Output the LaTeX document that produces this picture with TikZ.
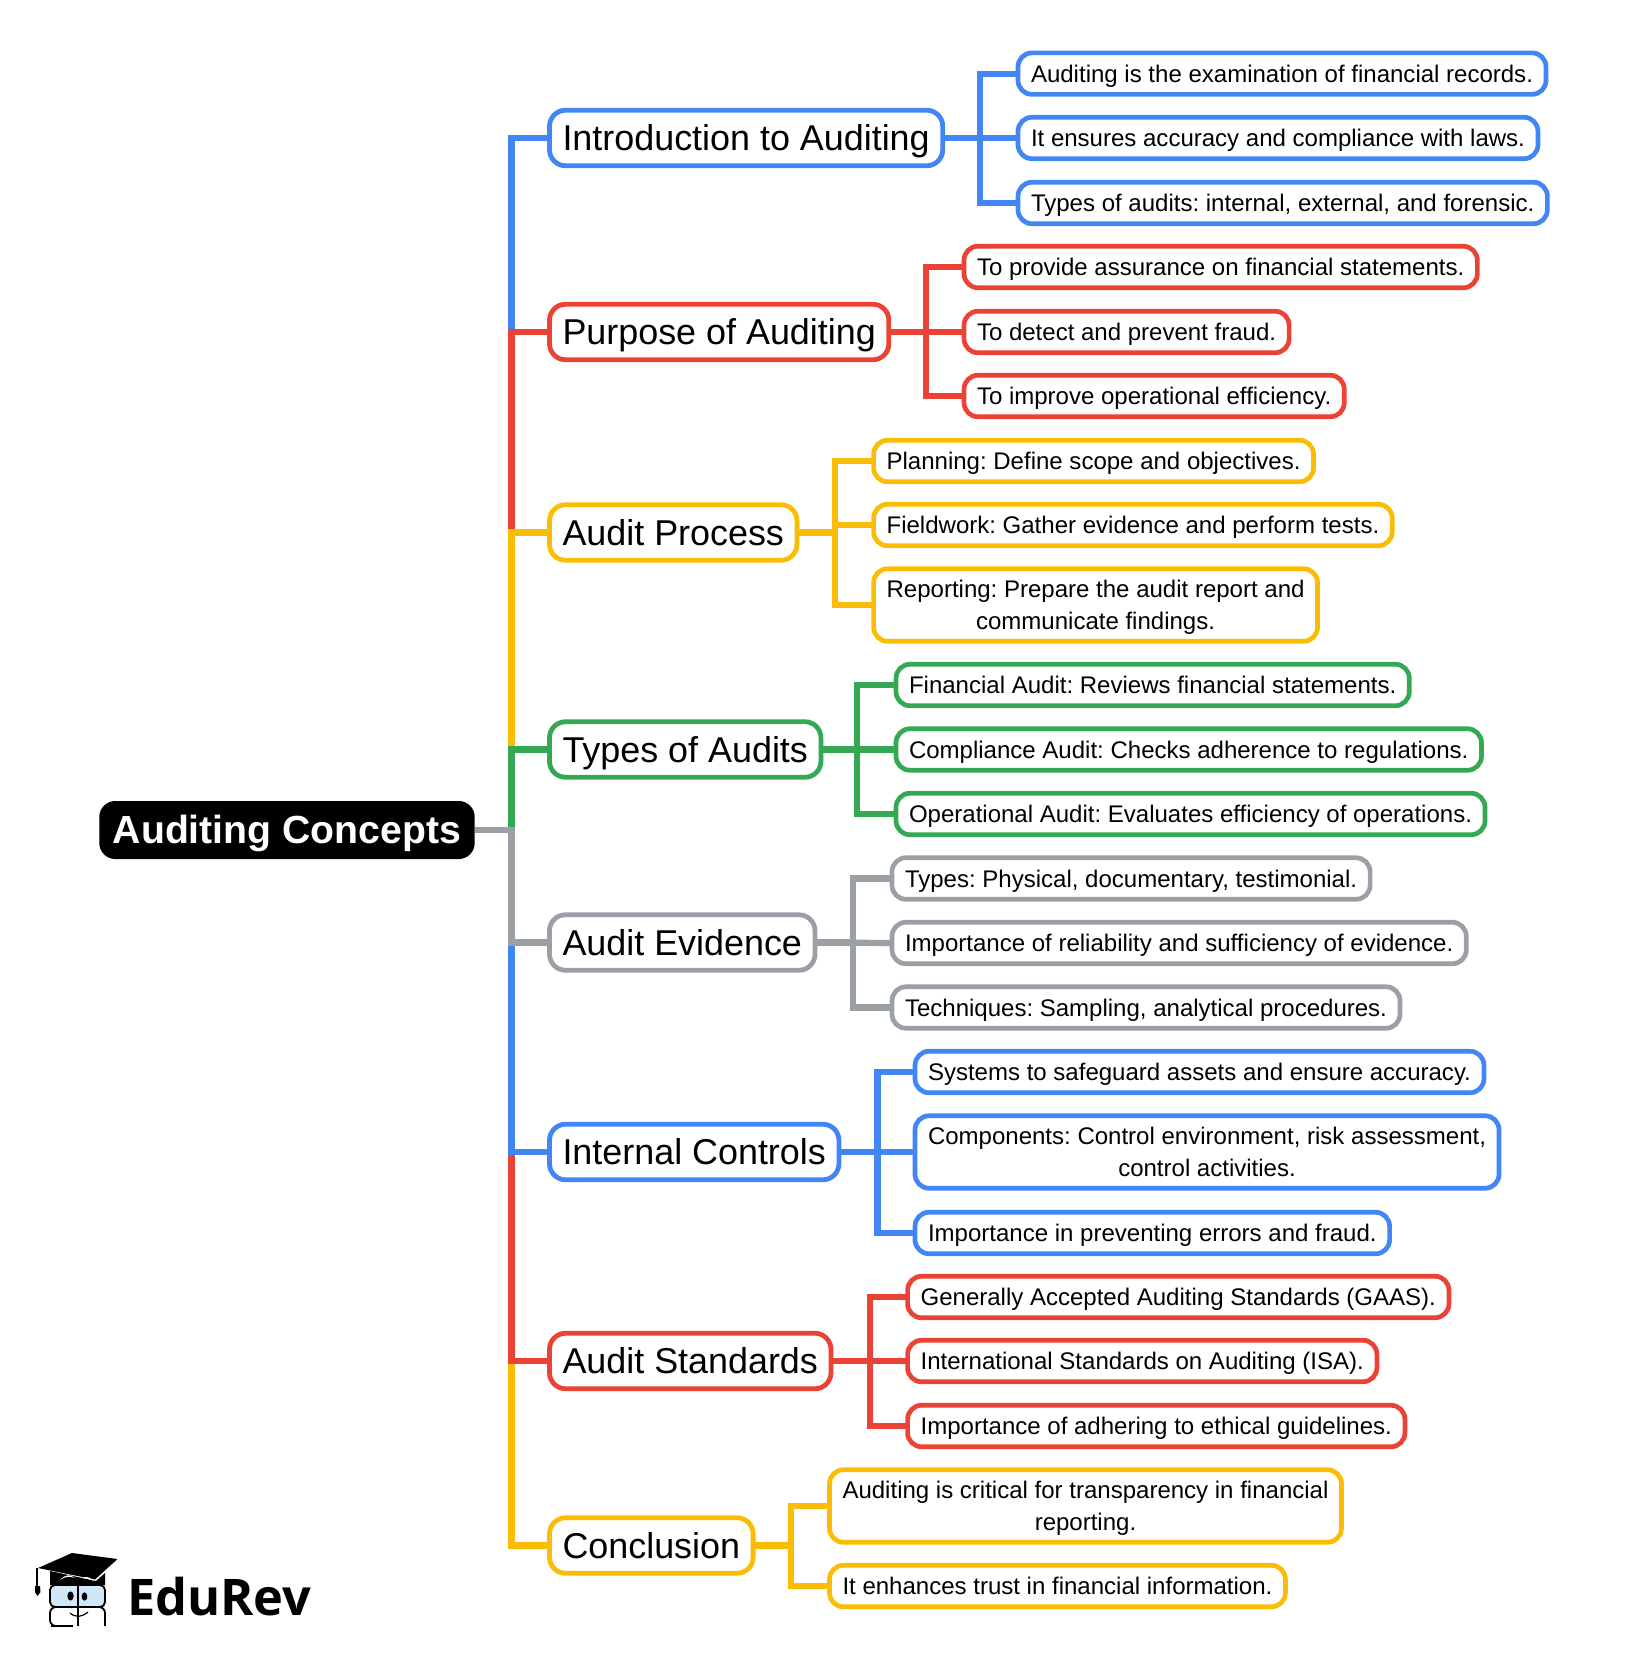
\documentclass[tikz,border=0pt]{standalone}
\usepackage{fontspec}
\setmainfont{Liberation Sans}
\newfontfamily\logofont{Open Sans}
\definecolor{cblue}{HTML}{4285F4}
\definecolor{cred}{HTML}{EA4335}
\definecolor{cyellow}{HTML}{FBBC04}
\definecolor{cgreen}{HTML}{34A853}
\definecolor{cgray}{HTML}{9AA0A6}
\definecolor{lensblue}{HTML}{CFE7F7}
\newcommand\upst{\rule{0pt}{22pt}}
\newcommand\downst{\rule[-5pt]{0pt}{5pt}}
\frenchspacing
\tikzset{
 rootbox/.style={fill=black,text=white,rounded corners=16pt,inner xsep=13.5pt,inner ysep=0pt,minimum height=58pt,outer sep=0pt,text height=35pt,text depth=8.5pt,font=\fontsize{39.2}{44}\selectfont\bfseries\frenchspacing},
 topicbox/.style={draw=#1,fill=white,line width=4.8pt,rounded corners=16pt,anchor=west,inner xsep=13pt,inner ysep=0pt,minimum height=55.5pt,outer sep=0pt,text height=33.7pt,text depth=8pt,font=\fontsize{35.9}{42}\selectfont\frenchspacing},
 leafbase/.style={draw=#1,fill=white,line width=4.7pt,rounded corners=14pt,anchor=west,align=center,inner xsep=13pt,inner ysep=0pt,outer sep=0pt,font=\fontsize{24.02}{31.6}\selectfont\frenchspacing},
 leafbox/.style={leafbase=#1,minimum height=41.5pt,text height=22pt,text depth=5pt},
 tallbox/.style={leafbase=#1,minimum height=72.5pt},
 link/.style={draw=#1,line width=6.6pt,line join=miter},
 sublink/.style={draw=#1,line width=6.2pt,line join=miter},
}
\begin{document}
\begin{tikzpicture}[x=1pt,y=-1pt]
\useasboundingbox (0,0) rectangle (1650,1660);
% root and trunk
\node[rootbox] (root) at (287,830) {Auditing Concepts};
\coordinate (trunk) at (511.5,830);
% topics
\node[topicbox=cblue] (t1) at (549.5,138) {Introduction to Auditing};
\node[topicbox=cred] (t2) at (549.5,332) {Purpose of Auditing};
\node[topicbox=cyellow] (t3) at (549.5,532.5) {Audit Process};
\node[topicbox=cgreen] (t4) at (549.5,749.5) {Types of Audits};
\node[topicbox=cgray] (t5) at (549.5,942.5) {Audit Evidence};
\node[topicbox=cblue] (t6) at (549.5,1152) {Internal Controls};
\node[topicbox=cred] (t7) at (549.5,1361) {Audit Standards};
\node[topicbox=cyellow] (t8) at (549.5,1545.5) {Conclusion};
% leaves
\node[leafbox=cblue] (a1) at (1018,73.6) {Auditing is the examination of financial records.};
\node[leafbox=cblue] (a2) at (1018,138) {It ensures accuracy and compliance with laws.};
\node[leafbox=cblue] (a3) at (1018,203) {Types of audits: internal, external, and forensic.};
\node[leafbox=cred] (b1) at (964,267) {To provide assurance on financial statements.};
\node[leafbox=cred] (b2) at (964,332) {To detect and prevent fraud.};
\node[leafbox=cred] (b3) at (964,396) {To improve operational efficiency.};
\node[leafbox=cyellow] (c1) at (873.6,461) {Planning: Define scope and objectives.};
\node[leafbox=cyellow] (c2) at (873.6,525) {Fieldwork: Gather evidence and perform tests.};
\node[tallbox=cyellow] (c3) at (873.6,605) {\upst Reporting: Prepare the audit report and\\communicate findings.\downst};
\node[leafbox=cgreen] (d1) at (896,685) {Financial Audit: Reviews financial statements.};
\node[leafbox=cgreen] (d2) at (896,749.5) {Compliance Audit: Checks adherence to regulations.};
\node[leafbox=cgreen] (d3) at (896,814) {Operational Audit: Evaluates efficiency of operations.};
\node[leafbox=cgray] (e1) at (892,878.5) {Types: Physical, documentary, testimonial.};
\node[leafbox=cgray] (e2) at (892,943) {Importance of reliability and sufficiency of evidence.};
\node[leafbox=cgray] (e3) at (892,1007.5) {Techniques: Sampling, analytical procedures.};
\node[leafbox=cblue] (f1) at (915,1072) {Systems to safeguard assets and ensure accuracy.};
\node[tallbox=cblue] (f2) at (915,1152) {\upst Components: Control environment, risk assessment,\\control activities.\downst};
\node[leafbox=cblue] (f3) at (915,1233) {Importance in preventing errors and fraud.};
\node[leafbox=cred] (g1) at (907.6,1297) {Generally Accepted Auditing Standards (GAAS).};
\node[leafbox=cred] (g2) at (907.6,1361) {International Standards on Auditing (ISA).};
\node[leafbox=cred] (g3) at (907.6,1426) {Importance of adhering to ethical guidelines.};
\node[tallbox=cyellow] (h1) at (829.5,1506) {\upst Auditing is critical for transparency in financial\\reporting.\downst};
\node[leafbox=cyellow] (h2) at (829.5,1586) {It enhances trust in financial information.};
% trunk connectors, painted so the nearer branch lies on top
\draw[link=cblue] (root.east) -- (trunk) |- (t1.west);
\draw[link=cred] (root.east) -- (trunk) |- (t2.west);
\draw[link=cyellow] (root.east) -- (trunk) |- (t3.west);
\draw[link=cgreen] (root.east) -- (trunk) |- (t4.west);
\draw[link=cyellow] (root.east) -- (trunk) |- (t8.west);
\draw[link=cred] (root.east) -- (trunk) |- (t7.west);
\draw[link=cblue] (root.east) -- (trunk) |- (t6.west);
\draw[link=cgray] (root.east) -- (trunk) |- (t5.west);
% branch connectors
\coordinate (ea) at (980,138);
\draw[sublink=cblue] (t1.east) -- (ea) |- (a1.west);
\draw[sublink=cblue] (t1.east) -- (ea) |- (a3.west);
\draw[sublink=cblue] (t1.east) -- (a2.west);
\coordinate (eb) at (926,332);
\draw[sublink=cred] (t2.east) -- (eb) |- (b1.west);
\draw[sublink=cred] (t2.east) -- (eb) |- (b3.west);
\draw[sublink=cred] (t2.east) -- (b2.west);
\coordinate (ec) at (835,532.5);
\draw[sublink=cyellow] (t3.east) -- (ec) |- (c1.west);
\draw[sublink=cyellow] (t3.east) -- (ec) |- (c2.west);
\draw[sublink=cyellow] (t3.east) -- (ec) |- (c3.west);
\coordinate (ed) at (857,749.5);
\draw[sublink=cgreen] (t4.east) -- (ed) |- (d1.west);
\draw[sublink=cgreen] (t4.east) -- (ed) |- (d3.west);
\draw[sublink=cgreen] (t4.east) -- (d2.west);
\coordinate (ee) at (853,942.5);
\draw[sublink=cgray] (t5.east) -- (ee) |- (e1.west);
\draw[sublink=cgray] (t5.east) -- (ee) |- (e3.west);
\draw[sublink=cgray] (t5.east) -- (e2.west);
\coordinate (ef) at (877.5,1152);
\draw[sublink=cblue] (t6.east) -- (ef) |- (f1.west);
\draw[sublink=cblue] (t6.east) -- (ef) |- (f3.west);
\draw[sublink=cblue] (t6.east) -- (f2.west);
\coordinate (eg) at (870,1361);
\draw[sublink=cred] (t7.east) -- (eg) |- (g1.west);
\draw[sublink=cred] (t7.east) -- (eg) |- (g3.west);
\draw[sublink=cred] (t7.east) -- (g2.west);
\coordinate (eh) at (791,1545.5);
\draw[sublink=cyellow] (t8.east) -- (eh) |- (h1.west);
\draw[sublink=cyellow] (t8.east) -- (eh) |- (h2.west);
% logo
\fill[black] (72,1553) -- (117.5,1559) -- (95,1579.5) -- (38,1568) -- cycle;
\draw[black,line width=1.6pt] (37,1568) -- (37,1588);
\fill[black] (35,1586) -- (40,1586) -- (40.5,1592) -- (37.5,1596) -- (35,1592) -- cycle;
\fill[black] (50,1571) -- (96,1581) -- (105,1573) -- (105,1585) -- (50,1585) -- cycle;
\fill[white] (60,1580) .. controls (66,1574) and (70,1574) .. (75,1578) .. controls (70,1576) and (66,1576) .. (60,1580) -- cycle;
\fill[white] (82,1578) .. controls (86,1576) and (90,1577) .. (94,1581) .. controls (90,1579) and (86,1578) .. (82,1578) -- cycle;
\draw[black,line width=1.8pt,fill=lensblue,rounded corners=5pt] (50,1585) rectangle (105,1607);
\draw[black,line width=1.8pt,rounded corners=6pt] (52,1626) -- (50,1626) -- (50,1607) -- (105,1607) -- (105,1626);
\draw[black,line width=1.8pt] (51,1626) -- (73,1626);
\draw[black,line width=2pt] (78,1583) -- (78,1626);
\fill[black] (70.5,1596) ellipse (3.2pt and 4.6pt);
\fill[black] (84.5,1596.5) ellipse (2.8pt and 4.2pt);
\draw[black,line width=1.2pt] (70,1613) .. controls (76,1618) and (82,1617) .. (88,1612);
\node[anchor=base west,inner sep=0pt,font=\logofont\fontsize{50.5}{54}\selectfont\bfseries] (logo) at (127,1615) {EduRev};
\end{tikzpicture}
\end{document}
